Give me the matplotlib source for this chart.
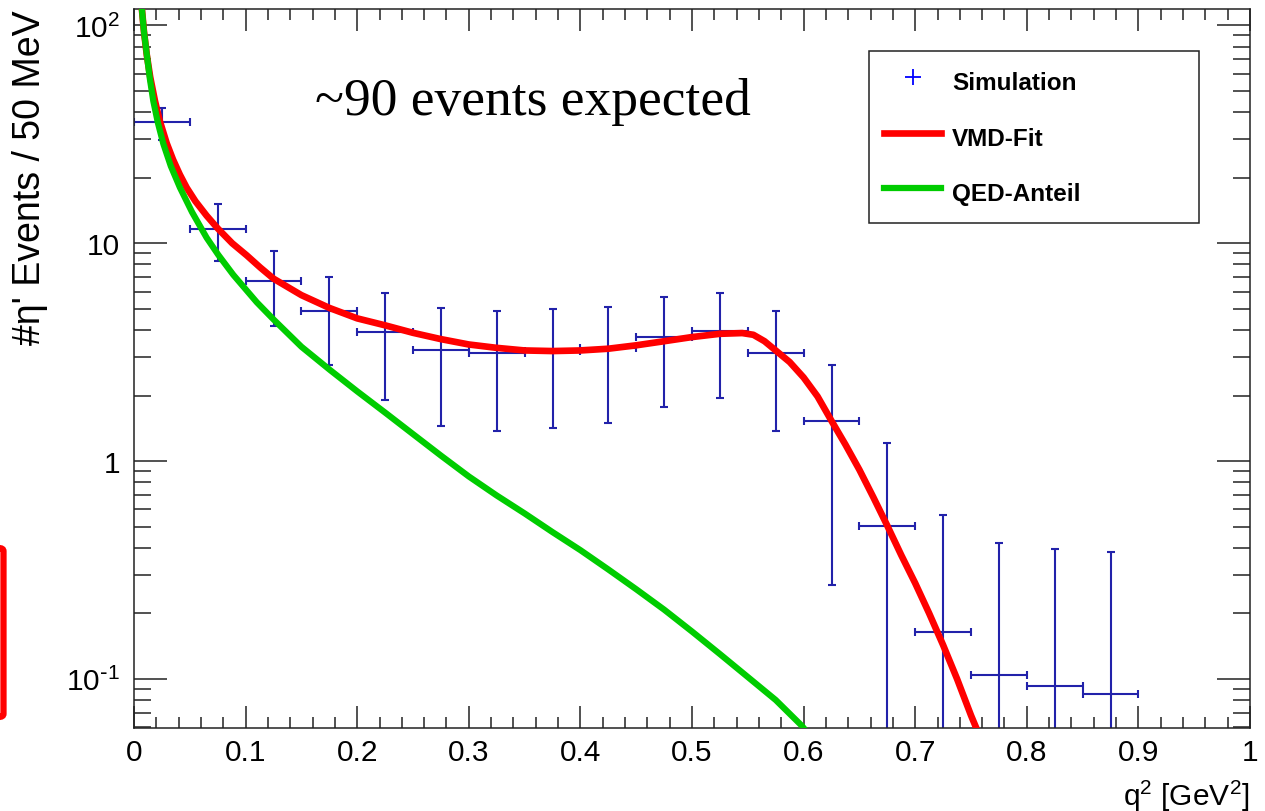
import matplotlib
matplotlib.use('Agg')
import matplotlib.pyplot as plt
import numpy as np
from matplotlib.lines import Line2D
from matplotlib.patches import FancyBboxPatch
from matplotlib.ticker import FixedLocator, FixedFormatter, LogLocator, MultipleLocator, NullFormatter

plt.rcParams['font.family'] = ['Liberation Sans', 'DejaVu Sans']

# simulated eta' events, 50 MeV bins
bin_centers = [0.025, 0.075, 0.125, 0.175, 0.225, 0.275, 0.325, 0.375, 0.425,
               0.475, 0.525, 0.575, 0.625, 0.675, 0.725, 0.775, 0.825, 0.875]
counts = [35.9, 11.68, 6.71, 4.88, 3.91, 3.25, 3.14, 3.20, 3.31,
          3.72, 3.94, 3.13, 1.52, 0.506, 0.165, 0.104, 0.0926, 0.0856]
count_err = [6.1, 3.4, 2.53, 2.13, 2.0, 1.8, 1.77, 1.78, 1.81,
             1.95, 2.0, 1.76, 1.25, 0.71, 0.40, 0.317, 0.303, 0.295]
bin_half = 0.025

# VMD fit curve
fit_q2 = [0.0065, 0.009, 0.0115, 0.0145, 0.0188, 0.023, 0.0293, 0.035, 0.041,
          0.0472, 0.055, 0.065, 0.075, 0.088, 0.101, 0.113, 0.125, 0.15,
          0.175, 0.20, 0.225, 0.25, 0.275, 0.30, 0.325, 0.35, 0.375, 0.40,
          0.425, 0.45, 0.475, 0.50, 0.525, 0.545, 0.555, 0.565, 0.575,
          0.5875, 0.60, 0.6125, 0.625, 0.6375, 0.65, 0.6625, 0.675, 0.6875,
          0.70, 0.7125, 0.725, 0.7375, 0.75, 0.7575]
fit_val = [128, 93, 73, 58, 45, 36.6, 28.8, 24.2, 20.7,
           18.0, 15.6, 13.4, 11.7, 10.0, 8.8, 7.75, 6.88, 5.78,
           5.05, 4.52, 4.2, 3.88, 3.63, 3.43, 3.31, 3.22, 3.20, 3.22,
           3.28, 3.40, 3.55, 3.71, 3.84, 3.87, 3.80, 3.55, 3.22,
           2.85, 2.42, 1.98, 1.53, 1.19, 0.912, 0.682, 0.505, 0.37,
           0.275, 0.20, 0.143, 0.10, 0.068, 0.055]

# QED part
qed_q2 = [0.0065, 0.0088, 0.0114, 0.0142, 0.0173, 0.0215, 0.0263, 0.033,
          0.0412, 0.052, 0.0651, 0.0755, 0.089, 0.11, 0.125, 0.15, 0.1756,
          0.20, 0.225, 0.25, 0.275, 0.30, 0.325, 0.35, 0.375, 0.40, 0.425,
          0.45, 0.475, 0.50, 0.525, 0.55, 0.575, 0.5983, 0.603]
qed_val = [128, 95, 74, 57, 45, 35.6, 28.6, 22.6,
           18.0, 13.9, 10.6, 8.85, 7.16, 5.36, 4.47, 3.35, 2.62,
           2.09, 1.67, 1.33, 1.06, 0.85, 0.695, 0.575, 0.472, 0.39, 0.318,
           0.258, 0.208, 0.165, 0.13, 0.102, 0.080, 0.061, 0.057]

x_ticks = [0, 0.1, 0.2, 0.3, 0.4, 0.5, 0.6, 0.7, 0.8, 0.9, 1.0]
x_labels = ['0', '0.1', '0.2', '0.3', '0.4', '0.5', '0.6', '0.7', '0.8', '0.9', '1']
y_ticks = [0.1, 1, 10, 100]
y_labels = [r'$\mathregular{10^{\text{-}1}}$', '1', '10', r'$\mathregular{10^{2}}$']

W, H = 1265, 812
fig = plt.figure(figsize=(W / 100, H / 100), dpi=100)
ax = fig.add_axes([134 / W, 1 - 729 / H, 1116 / W, 719 / H])
ax.set_yscale('log')

cnt = np.array(counts)
err = np.array(count_err)
err_low = np.minimum(err, cnt * (1 - 1e-6))
ax.errorbar(bin_centers, counts, yerr=[err_low, err], xerr=bin_half,
            fmt='none', ecolor='#2222aa', elinewidth=1.5, capsize=3,
            capthick=1.5, zorder=2)
ax.plot(fit_q2, fit_val, color='#ff0000', lw=4.8, zorder=3,
        solid_capstyle='butt', solid_joinstyle='round')
ax.plot(qed_q2, qed_val, color='#00cc00', lw=4.5, zorder=4,
        solid_capstyle='butt', solid_joinstyle='round')

ax.set_xlim(0, 1)
ax.set_ylim(0.0595, 119)

ax.xaxis.set_major_locator(FixedLocator(x_ticks))
ax.xaxis.set_major_formatter(FixedFormatter(x_labels))
ax.xaxis.set_minor_locator(MultipleLocator(0.02))
ax.yaxis.set_major_locator(FixedLocator(y_ticks))
ax.yaxis.set_major_formatter(FixedFormatter(y_labels))
ax.yaxis.set_minor_locator(LogLocator(base=10, subs=np.arange(2, 10)))
ax.yaxis.set_minor_formatter(NullFormatter())

ax.tick_params(which='both', direction='in', top=True, right=True,
               width=1.1, color='#222222', labelsize=21.5)
ax.tick_params(axis='x', which='major', length=16, pad=7)
ax.tick_params(axis='x', which='minor', length=8)
ax.tick_params(axis='y', which='major', length=24, pad=10)
ax.tick_params(axis='y', which='minor', length=12.2)
for s in ax.spines.values():
    s.set_linewidth(1.1)
    s.set_color('#222222')

ax.set_xlabel(r'q$^\mathregular{2}$ [GeV$^\mathregular{2}$]', fontsize=21.5, loc='right')
ax.xaxis.set_label_coords(1.0, -0.068)
ax.set_ylabel("#η' Events / 50 MeV", fontsize=27, loc='top')
ax.yaxis.set_label_coords(-0.077, 1.0)

ax.text(0.162, 0.854, '~90 events expected', transform=ax.transAxes,
        family=['Liberation Serif', 'DejaVu Serif'], fontsize=38.5,
        va='baseline', ha='left')

handles = [
    Line2D([], [], color='#0000ff', marker='+', linestyle='none',
           markersize=12, markeredgewidth=1.3),
    Line2D([], [], color='#ff0000', lw=4.8),
    Line2D([], [], color='#00cc00', lw=4.5),
]
leg = ax.legend(handles, ['Simulation', 'VMD-Fit', 'QED-Anteil'],
                loc='upper left', bbox_to_anchor=(0.659, 0.942, 0.295, 0),
                mode='expand', borderaxespad=0, fancybox=False,
                edgecolor='#222222', framealpha=1,
                prop={'family': ['Liberation Sans', 'DejaVu Sans'],
                      'weight': 'bold', 'size': 17.5},
                handlelength=2.35, handletextpad=0.45, borderpad=0.6,
                handleheight=1.66, labelspacing=0.96)
leg.get_frame().set_linewidth(1.1)

# red marker box at left edge
box = FancyBboxPatch((-40 / W, 1 - 718 / H), 43.5 / W, 169 / H,
                     boxstyle='round,pad=0,rounding_size=0.004',
                     transform=fig.transFigure, fill=False,
                     edgecolor='#ff0000', lw=4.5)
fig.patches.append(box)

fig.savefig('out.png', dpi=100)
